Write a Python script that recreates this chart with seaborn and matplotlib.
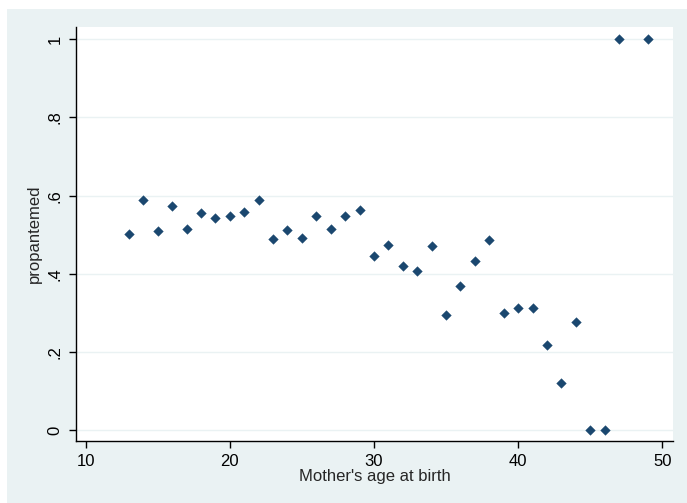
import matplotlib
matplotlib.use("Agg")
import matplotlib.pyplot as plt
import seaborn as sns
import pandas as pd
from matplotlib.patches import Rectangle

"""data read off the picture"""
age = [13, 14, 15, 16, 17, 18, 19, 20, 21, 22, 23, 24, 25, 26, 27, 28, 29, 30,
       31, 32, 33, 34, 35, 36, 37, 38, 39, 40, 41, 42, 43, 44, 45, 46, 47, 49]
propantemed = [0.501, 0.588, 0.509, 0.573, 0.515, 0.555, 0.543, 0.547, 0.558,
               0.588, 0.490, 0.512, 0.491, 0.547, 0.516, 0.547, 0.563, 0.447,
               0.475, 0.421, 0.407, 0.472, 0.294, 0.370, 0.432, 0.486, 0.299,
               0.312, 0.312, 0.218, 0.120, 0.277, 0.0, 0.0, 1.0, 1.0]
xticks = [10, 20, 30, 40, 50]
yticks = [0, 0.2, 0.4, 0.6, 0.8, 1.0]
ytick_labels = ["0", ".2", ".4", ".6", ".8", "1"]

df = pd.DataFrame({"age": age, "propantemed": propantemed})

sns.set_style("white")
plt.rcParams['font.family'] = ['Liberation Sans', 'DejaVu Sans']

W, H = 687, 503
fig = plt.figure(figsize=(W / 100, H / 100), dpi=100, facecolor="white")
# stata-like grey background
bg = Rectangle((7 / W, 0), 1, (H - 9) / H, transform=fig.transFigure,
               facecolor="#eaf2f3", edgecolor="none", zorder=-10)
fig.add_artist(bg)

ax = fig.add_axes([76 / W, (H - 441) / H, (673 - 76) / W, (441 - 27) / H])
ax.set_zorder(5)
ax.set_facecolor("white")

sns.scatterplot(data=df, x="age", y="propantemed", marker="D", s=24,
                color="#1a476f", edgecolor="#1a476f", linewidth=0.3, ax=ax, zorder=3)

ax.set_xlim(9.33, 50.74)
ax.set_ylim(-0.027, 1.031)
ax.set_xticks(xticks)
ax.set_yticks(yticks)
ax.set_yticklabels(ytick_labels, rotation=90, va="center")
ax.yaxis.grid(True, color="#eaf2f3", linewidth=1.0)
ax.xaxis.grid(False)
ax.set_axisbelow(True)

for side in ["top", "right"]:
    ax.spines[side].set_visible(False)
for side in ["left", "bottom"]:
    ax.spines[side].set_color("black")
    ax.spines[side].set_linewidth(1.0)

ax.tick_params(axis="both", direction="out", length=5, width=1, color="black",
               labelsize=12, labelcolor="black", left=True, bottom=True)
ax.tick_params(axis="y", pad=4.5)
ax.tick_params(axis="x", pad=4.5)

ax.set_xlabel("Mother's age at birth", fontsize=12, labelpad=0)
ax.set_ylabel("propantemed", fontsize=12, labelpad=4)

fig.savefig("out.png", dpi=100, facecolor=fig.get_facecolor())
